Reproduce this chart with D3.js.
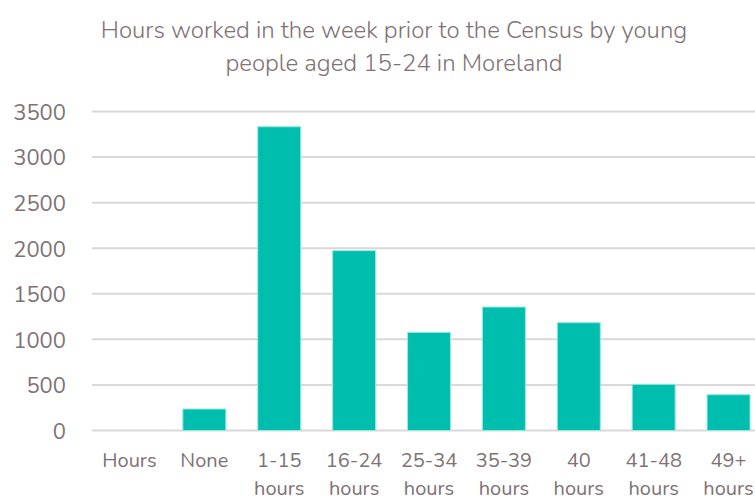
<html>
<head>
<script src="https://d3js.org/d3.v7.min.js"></script>
<style>
  body { margin: 0; background: white; }
  svg text { font-family: "Nunito", "Lato", "Open Sans", sans-serif; fill: #7e7274; }
</style>
</head>
<body>
<svg width="755" height="498"></svg>
<script>
var categories = ["Hours", "None", "1-15 hours", "16-24 hours", "25-34 hours", "35-39 hours", "40 hours", "41-48 hours", "49+ hours"];
var values = [0, 236, 3333, 1973, 1077, 1355, 1183, 507, 393];
var yTicks = [0, 500, 1000, 1500, 2000, 2500, 3000, 3500];
var titleLines = ["Hours worked in the week prior to the Census by young", "people aged 15-24 in Moreland"];

var svg = d3.select("svg");

var x = d3.scaleBand().domain(categories).range([92, 766]).paddingInner(0.426).paddingOuter(0.213);
var y = d3.scaleLinear().domain([0, 3500]).range([430.5, 111.5]);

// gridlines
svg.append("g")
    .selectAll("line").data(yTicks)
    .enter().append("line")
        .attr("x1", 92)
        .attr("x2", 766)
        .attr("y1", function(d) { return y(d); })
        .attr("y2", function(d) { return y(d); })
        .style("stroke", "#dcd7d8")
        .style("stroke-width", 2);

// y axis labels
var yAxis = svg.append("g")
    .attr("transform", "translate(72,0)")
    .call(d3.axisLeft(y).tickValues(yTicks).tickFormat(d3.format("d")).tickSize(0).tickPadding(6));
yAxis.select(".domain").remove();
yAxis.selectAll("text")
    .style("font-size", "22px")
    .attr("dy", "0.36em");

// bars
svg.append("g")
    .selectAll("rect").data(values)
    .enter().append("rect")
        .attr("x", function(d, i) { return x(categories[i]); })
        .attr("y", function(d) { return y(d); })
        .attr("width", x.bandwidth())
        .attr("height", function(d) { return y(0) - y(d); })
        .style("fill", "#00bead")
        .style("stroke", "#9be8de")
        .style("stroke-width", 1)
        .style("display", function(d) { return d > 0 ? null : "none"; });

// x axis labels
var xLabels = svg.append("g")
    .selectAll("text").data(categories)
    .enter().append("text")
        .attr("x", function(d) { return x(d) + x.bandwidth() / 2; })
        .attr("y", 467)
        .attr("text-anchor", "middle")
        .style("font-size", "20px");
xLabels.each(function(d) {
    var parts = d.split(" ");
    var t = d3.select(this);
    parts.forEach(function(p, i) {
        t.append("tspan")
            .attr("x", t.attr("x"))
            .attr("dy", i == 0 ? 0 : 28)
            .text(p);
    });
});

// title
svg.append("g")
    .selectAll("text").data(titleLines)
    .enter().append("text")
        .attr("x", 394)
        .attr("y", function(d, i) { return 38 + i * 33; })
        .attr("text-anchor", "middle")
        .style("font-size", "24px")
        .style("font-weight", 300)
        .text(function(d) { return d; });
</script>
</body>
</html>
